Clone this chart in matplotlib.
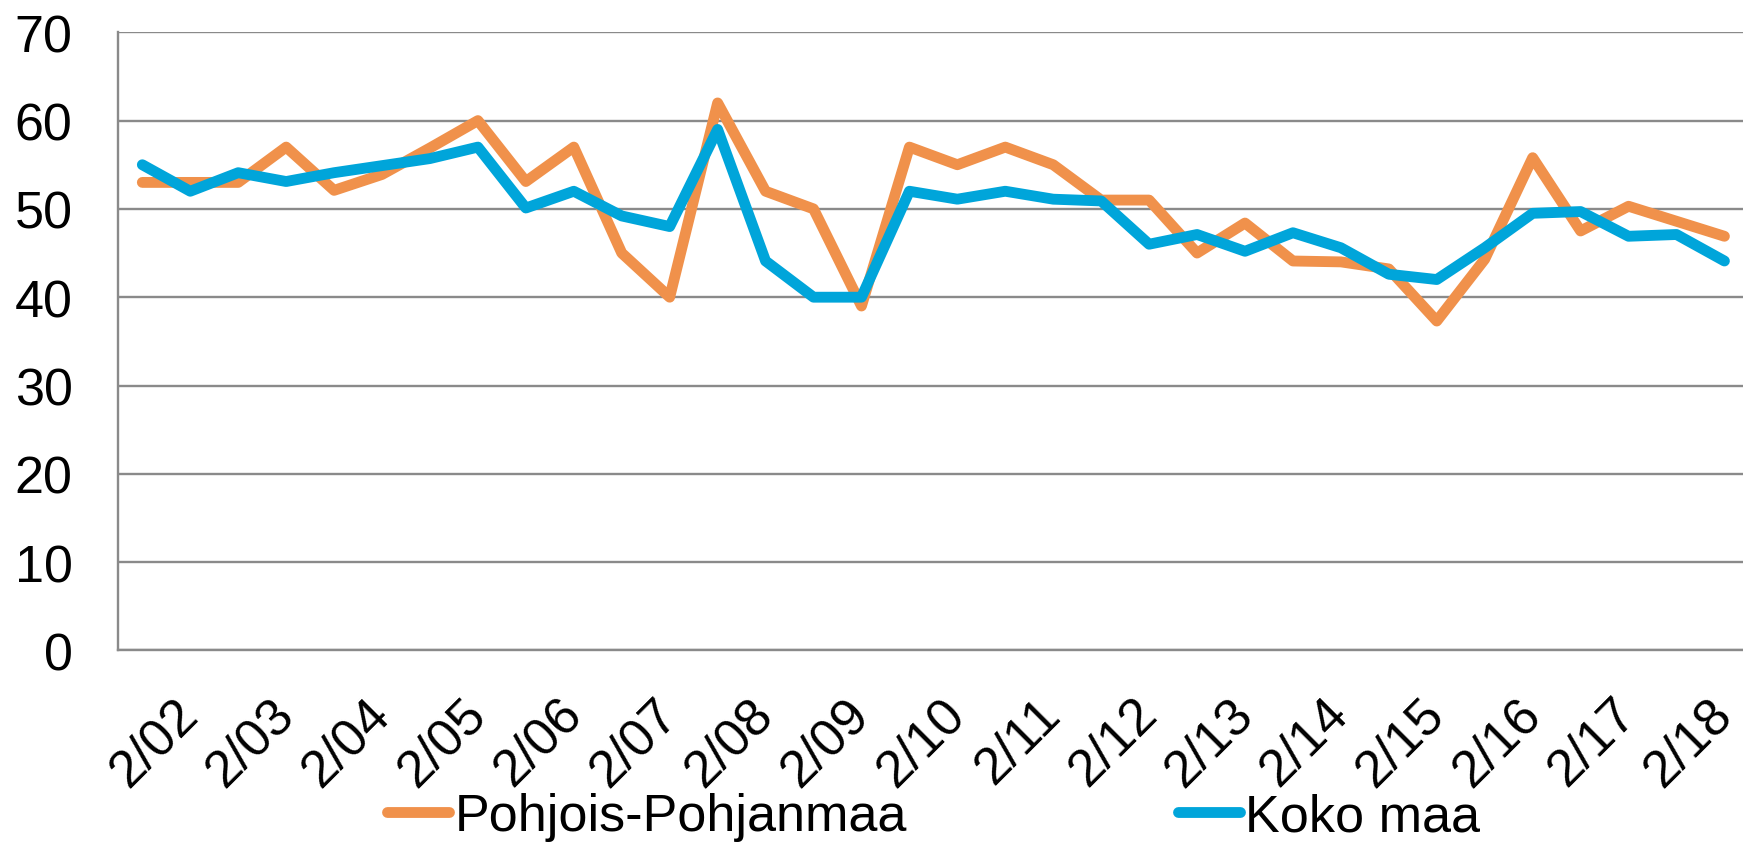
import matplotlib.pyplot as plt
from matplotlib.lines import Line2D
import numpy as np

plt.rcParams['font.family'] = ['Liberation Sans', 'DejaVu Sans']

# puolivuosittaiset arvot, 34 havaintoa
pohjois = [53.0, 53.0, 53.0, 57.0, 52.1, 53.9, 56.9, 60.0, 53.1, 57.0,
           45.0, 40.0, 62.0, 52.0, 50.0, 39.0, 57.0, 55.0, 57.0, 55.0,
           51.0, 51.0, 45.0, 48.4, 44.1, 44.0, 43.2, 37.3, 44.3, 55.8,
           47.5, 50.3, 48.6, 46.9]
koko = [55.0, 52.0, 54.1, 53.1, 54.1, 54.9, 55.7, 57.0, 50.1, 52.0,
        49.2, 48.0, 59.0, 44.1, 40.0, 40.0, 52.0, 51.1, 52.0, 51.1,
        50.9, 46.0, 47.1, 45.2, 47.3, 45.6, 42.6, 42.0, 45.6, 49.5,
        49.7, 46.9, 47.1, 44.1]
xlabels = ['2/02', '2/03', '2/04', '2/05', '2/06', '2/07', '2/08', '2/09',
           '2/10', '2/11', '2/12', '2/13', '2/14', '2/15', '2/16', '2/17',
           '2/18']
yticks = [0, 10, 20, 30, 40, 50, 60, 70]

orange = '#F0914B'
blue = '#00A5DA'
grid_c = '#8A8A8A'

fig = plt.figure(figsize=(17.43, 8.45), dpi=100)
ax = fig.add_axes([0.0679, 0.2291, 0.9352, 0.7315])

x = np.arange(len(pohjois))
lw = 7.8
ax.plot(x, pohjois, color=orange, lw=lw, solid_capstyle='round',
        solid_joinstyle='round', zorder=3)
ax.plot(x, koko, color=blue, lw=lw, solid_capstyle='round',
        solid_joinstyle='round', zorder=4)

ax.set_xlim(-0.5, len(x) - 0.5)
ax.set_ylim(0, 70)
ax.set_yticks(yticks)
ax.set_yticklabels([str(v) for v in yticks], fontsize=37.5)
ax.set_xticks(np.arange(1, len(x), 2))
ax.set_xticklabels(xlabels, fontsize=37.5, rotation=45, ha='right',
                   va='center', rotation_mode='anchor')
ax.tick_params(axis='y', length=0, pad=33)
ax.tick_params(axis='x', length=0, pad=40)

ax.grid(axis='y', color=grid_c, lw=1.7, zorder=1)
ax.set_axisbelow(True)
for s in ['top', 'right']:
    ax.spines[s].set_visible(False)
for s in ['left', 'bottom']:
    ax.spines[s].set_color(grid_c)
    ax.spines[s].set_linewidth(1.7)

handles = [Line2D([], [], color=orange, lw=lw, solid_capstyle='round'),
           Line2D([], [], color=blue, lw=lw, solid_capstyle='round')]
fig.legend(handles, ['Pohjois-Pohjanmaa', 'Koko maa'], loc='center',
           bbox_to_anchor=(0.5356, 0.032), ncol=2, frameon=False,
           fontsize=37.5, handlelength=1.2, handletextpad=0.1,
           columnspacing=5.2, borderpad=0, borderaxespad=0)

fig.savefig('out.png', dpi=100)
